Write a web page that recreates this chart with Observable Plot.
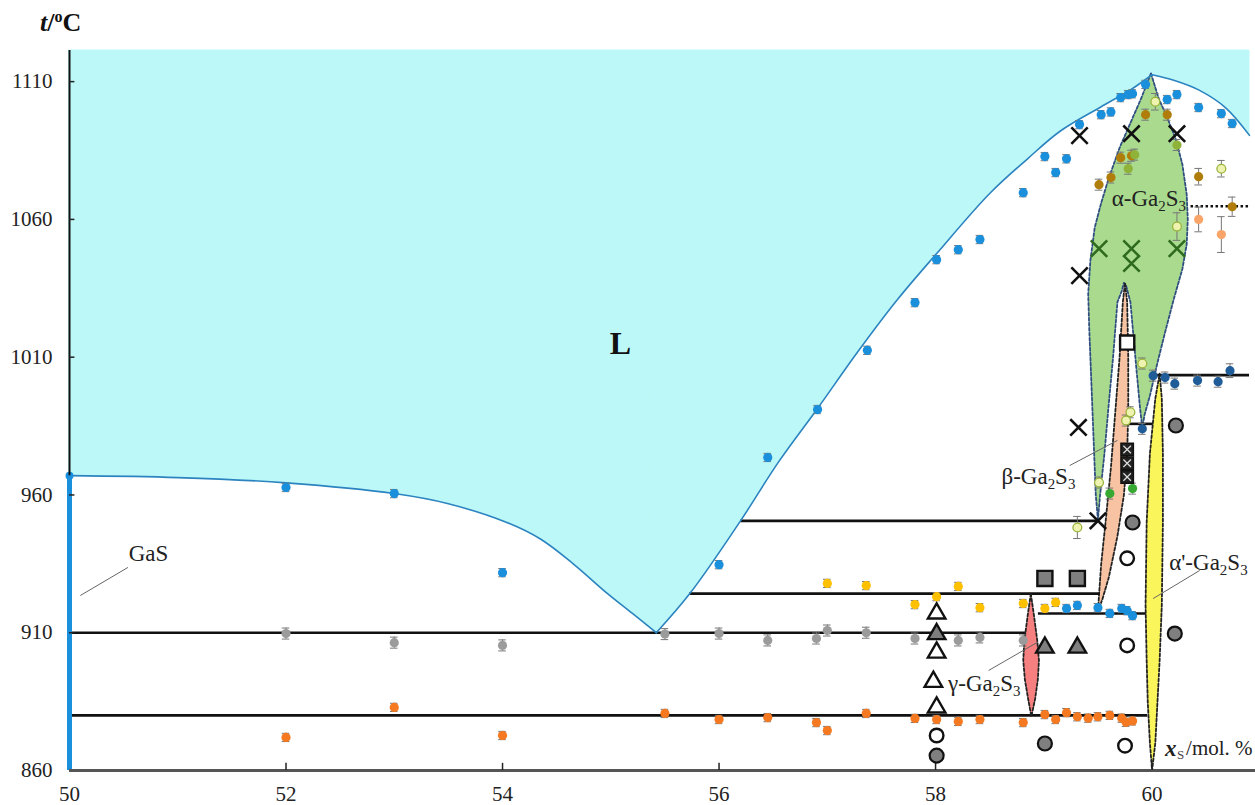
<!DOCTYPE html>
<html>
<head>
<meta charset="utf-8">
<script src="https://cdn.jsdelivr.net/npm/d3@7"></script>
<script src="https://cdn.jsdelivr.net/npm/@observablehq/plot@0.6"></script>
<style>
  body { margin: 0; background: #fff; }
  #wrap { position: relative; width: 1255px; height: 805px; }
  #ttl { position: absolute; left: 40px; top: 8px; font: bold 26px "Liberation Serif", "Times New Roman", serif; color: #111; }
  #ttl sup { font-size: 16px; vertical-align: 9px; }
</style>
</head>
<body>
<div id="wrap"><div id="ttl"><i>t</i>/<sup>o</sup>C</div></div>
<script>
// ---- axes ----
const xTicks = [50, 52, 54, 56, 58, 60];
const yTicks = [860, 910, 960, 1010, 1060, 1110];

// ---- liquidus (x, t), three branches ----
const liqLeft = [[50,967],[51,966.3],[52,964.4],[53,960.5],[53.5,956.8],[54.04,950],[54.35,944],[54.65,935.1],[54.97,924.2],[55.2,917],[55.42,910]];
const liqRise = [[55.42,910],[55.73,924.2],[56.2,950.7],[56.55,972],[56.91,991.4],[57.29,1012.4],[57.65,1031],[58.01,1047.6],[58.5,1069.4],[58.85,1082],[59.15,1092],[59.53,1100.9],[59.8,1107],[60.0,1112.5]];
const liqFall = [[60.0,1112.5],[60.2,1110.5],[60.43,1107],[60.68,1100.5],[60.9,1090.5]];
const gasMelt = 967;

// ---- phase regions (x, t) ----
const alphaRegion = [[59.99,1113],[60.06,1104],[60.14,1097],[60.22,1089],[60.28,1080],[60.32,1069],[60.33,1060],[60.32,1051],[60.28,1042],[60.2,1031],[60.12,1019],[60.05,1008],[59.98,996],[59.93,989],[59.91,984.5],[59.89,991],[59.85,1008],[59.8,1030],[59.76,1036],[59.74,1037],[59.72,1034],[59.68,1030],[59.64,1010],[59.6,993],[59.56,975],[59.52,960],[59.5,951],[59.48,960],[59.46,980],[59.44,1000],[59.42,1020],[59.41,1033],[59.43,1045],[59.47,1057],[59.53,1066],[59.6,1075],[59.7,1086],[59.8,1095],[59.9,1104]];
const betaRegion = [[59.5,918],[59.53,935],[59.57,950],[59.62,970],[59.66,990],[59.7,1010],[59.73,1030],[59.75,1037],[59.77,1030],[59.78,1010],[59.78,990],[59.77,975],[59.74,960],[59.68,945],[59.6,930],[59.54,922]];
const gammaRegion = [[58.88,924.2],[58.91,916],[58.94,907],[58.955,900],[58.945,893],[58.92,886],[58.885,879.6],[58.855,886],[58.825,893],[58.81,900],[58.82,907],[58.85,916]];
const alphaPrimeRegion = [[60.07,1004],[60.09,995],[60.1,975],[60.1,950],[60.09,920],[60.07,900],[60.05,885],[60.03,870],[60.0,860],[59.98,870],[59.96,885],[59.95,900],[59.94,920],[59.95,950],[59.98,975],[60.03,995]];

// ---- invariant lines [t, x1, x2] ----
const solidLines = [[910,50,58.85],[880,50,59.96],[924.2,55.73,59.52],[917,58.95,59.95],[950.6,56.2,59.5],[1003.5,59.99,60.9],[985.8,59.77,60.05]];
const dottedLines = [[1064.8,60.36,60.9]];

// ---- data points [x, t, err] ----
const blueData = [[52,962.7,1.5],[53,960.5,1.5],[54,931.8,1.5],[56.0,934.7,1.5],[56.45,973.6,1.5],[56.91,991,1.5],[57.37,1012.5,1.5],[57.81,1029.8,1.5],[58.01,1045.4,1.5],[58.21,1049,1.5],[58.41,1052.7,1.5],[58.81,1069.7,1.5],[59.01,1082.8,1.5],[59.11,1077,1.5],[59.21,1082,1.5],[59.33,1094.4,1.5],[59.53,1098,1.5],[59.62,1099,1.5],[59.71,1104.2,1.5],[59.78,1105.3,1.5],[59.82,1105.6,1.5],[59.94,1109,1.5],[60.14,1103.5,1.5],[60.23,1105.3,1.5],[60.43,1100.6,1.5],[60.64,1098.4,1.5],[60.74,1094.8,1.5],[59.21,918.8,1.5],[59.31,919.9,1.5],[59.5,919.1,1.5],[59.61,917,1.5],[59.72,918.8,1.5],[59.77,918,1.5],[59.82,916.2,1.5]];
const navyData = [[60.01,1003.3,2],[60.12,1002.6,2],[60.21,1000.4,2],[60.42,1001.5,2],[60.61,1001.1,2],[60.72,1005.1,2.5],[59.91,984,2]];
const grayData = [[52,909.7,2],[53,906.4,2],[54,905.4,2],[55.5,909.5,2],[56,909.7,2],[56.45,907.2,2],[56.9,907.9,2],[57,910.8,2],[57.36,910,2],[57.81,907.9,2],[58.21,907.2,2],[58.41,908.3,2],[58.81,907.2,2]];
const orangeData = [[52,872,1.5],[53,882.9,1.5],[54,872.7,1.5],[55.5,880.7,1.5],[56,878.5,1.5],[56.45,879.2,1.5],[56.9,877.4,1.5],[57,874.5,1.5],[57.36,880.7,1.5],[57.81,878.9,1.5],[58.01,878.5,1.5],[58.21,877.8,1.5],[58.41,878.5,1.5],[58.81,877.4,1.5],[59.01,880.3,1.5],[59.11,878.5,1.5],[59.21,881,1.5],[59.31,879.5,1.5],[59.41,879,1.5],[59.5,879.5,1.5],[59.61,880,1.5],[59.72,879,1.5],[59.76,877.5,1.5],[59.82,878,1.5]];
const goldData = [[57,927.9,1.5],[57.36,927.1,1.5],[57.81,920.2,1.5],[58.01,923.1,1.5],[58.21,926.8,1.5],[58.41,919.1,1.5],[58.81,920.6,1.5],[59.01,918.8,1.5],[59.11,921,1.5]];
const brownData = [[59.94,1098,2],[60.14,1098,2],[59.71,1082.4,2],[59.81,1083.1,2],[59.51,1072.6,2],[59.62,1075.2,2],[60.43,1075.5,3],[60.74,1064.6,3.5]];
const oliveData = [[59.84,1083.5,2],[59.78,1078.4,2],[60.23,1087,2]];
const paleData = [[60.03,1102.7,3],[60.64,1078.4,3],[60.23,1057.4,5],[59.91,1007.7,2],[59.8,990,2],[59.76,987,2],[59.51,964.5,2],[59.31,948.2,4]];
const salmonData = [[60.43,1060,4.5],[60.64,1054.5,6.5]];
const greenData = [[59.61,960.5,2],[59.82,962.3,2]];

// ---- symbol markers [x, t] ----
const blackCross = [[59.33,1090.4],[59.81,1091.1],[60.23,1091.1],[59.33,1039.6],[59.32,984.5],[59.5,950.6]];
const greenCross = [[59.51,1049.4],[59.81,1049.4],[59.81,1044],[60.23,1049.4]];
const openSquare = [[59.77,1015.3]];
const graySquare = [[59.01,929.7],[59.31,929.7]];
const blackSquare = [[59.77,976.5],[59.77,971.5],[59.77,966.5]];
const grayCircle = [[59.82,950],[60.22,985.2],[60.21,909.7],[58.01,865.4],[59.01,869.8]];
const openCircle = [[59.77,937],[58.01,872.7],[59.75,869],[59.77,905.4]];
const openTriangle = [[58.01,917],[58.01,902.8],[57.98,892.2],[58.01,882.9]];
const grayTriangle = [[58.01,909.5],[59.01,904.6],[59.31,904.6]];

// ---- annotations ----
const bigLabel = [{x:55.09, t:1015, text:"L"}];
const labels = [
  {x:50.73, t:938.7, text:"GaS"},
  {x:59.97, t:1067.5, text:"α-Ga₂S₃"},
  {x:58.95, t:966.5, text:"β-Ga₂S₃"},
  {x:60.52, t:935.5, text:"α'-Ga₂S₃"},
  {x:58.45, t:891.6, text:"γ-Ga₂S₃"}
];
const leaders = [[50.1,923.5,50.54,933.7],[59.24,970.7,59.68,979.8],[60.01,922.4,60.44,932.6],[58.49,896.3,58.94,906.5]];
const xTitlePos = [{x:60.12, t:868}];

const X = d => d[0], T = d => d[1];
const liqAll = [
  ...liqLeft.map(d => ({x: d[0], t: d[1], b: "left"})),
  ...liqRise.map(d => ({x: d[0], t: d[1], b: "rise"})),
  ...liqFall.map(d => ({x: d[0], t: d[1], b: "fall"}))
];
const pointSets = [
  [grayData, "#9b9b9b"], [orangeData, "#f47920"], [goldData, "#ffc000"], [blueData, "#1a90dc"],
  [navyData, "#1f5c98"], [brownData, "#b07d0b"], [oliveData, "#8fb339"], [salmonData, "#f9a468"], [greenData, "#37a832"]
];
const allErr = [...pointSets.flatMap(p => p[0]), ...paleData];

const serif = "'Liberation Serif', 'Times New Roman', serif";
const dashed = {curve: "linear-closed", strokeWidth: 1.8, strokeDasharray: "3,2"};
const cyan = "#bdf8f9";

const marks = [
  Plot.areaY(liqAll, {x: "x", y1: "t", y2: 1121.3, z: "b", curve: "catmull-rom", fill: cyan, stroke: cyan, strokeWidth: 1}),
  Plot.line(alphaRegion, {x: X, y: T, fill: "#a9da8e", stroke: "#2f4f80", ...dashed}),
  Plot.line(betaRegion, {x: X, y: T, fill: "#f7c3a2", stroke: "#222", ...dashed}),
  Plot.ruleY(solidLines, {y: d => d[0], x1: d => d[1], x2: d => d[2], stroke: "#111", strokeWidth: 2.6}),
  Plot.ruleY(dottedLines, {y: d => d[0], x1: d => d[1], x2: d => d[2], stroke: "#111", strokeWidth: 2.6, strokeDasharray: "2.5,2.5"}),
  Plot.line(gammaRegion, {x: X, y: T, fill: "#f5807f", stroke: "#222", ...dashed}),
  Plot.line(alphaPrimeRegion, {x: X, y: T, fill: "#fbf55c", stroke: "#222", ...dashed}),
  Plot.line(liqAll, {x: "x", y: "t", z: "b", curve: "catmull-rom", stroke: "#2b84bf", strokeWidth: 1.6}),
  Plot.ruleX([50], {y1: 860, y2: gasMelt, stroke: "#1a90dc", strokeWidth: 5}),
  Plot.dot([[50, gasMelt]], {x: X, y: T, r: 4, fill: "#1a90dc"}),
  Plot.ruleX([50], {y1: gasMelt, y2: 1121.3, stroke: "#111", strokeWidth: 2}),
  Plot.ruleY([860], {x1: 50, x2: 60.98, stroke: "#555", strokeWidth: 3}),
  Plot.ruleX(xTicks.slice(1), {y1: 860, y2: 862.6, stroke: "#222", strokeWidth: 1.5}),
  Plot.ruleY(yTicks.slice(1), {x1: 50, x2: 50.05, stroke: "#222", strokeWidth: 1.5}),
  Plot.link(leaders, {x1: d => d[0], y1: d => d[1], x2: d => d[2], y2: d => d[3], stroke: "#666", strokeWidth: 1}),
  Plot.ruleX(allErr, {x: X, y1: d => d[1] - d[2], y2: d => d[1] + d[2], stroke: "#777", strokeWidth: 1}),
  Plot.ruleY(allErr, {y: d => d[1] + d[2], x1: d => d[0] - 0.035, x2: d => d[0] + 0.035, stroke: "#777", strokeWidth: 1}),
  Plot.ruleY(allErr, {y: d => d[1] - d[2], x1: d => d[0] - 0.035, x2: d => d[0] + 0.035, stroke: "#777", strokeWidth: 1}),
  ...pointSets.map(([data, color]) => Plot.dot(data, {x: X, y: T, r: 4.6, fill: color})),
  Plot.dot(paleData, {x: X, y: T, r: 4.4, fill: "#eef4b0", stroke: "#9ab43c", strokeWidth: 1.3}),
  Plot.dot(blackCross, {x: X, y: T, symbol: "times", r: 7.5, stroke: "#111", strokeWidth: 2.6}),
  Plot.dot(greenCross, {x: X, y: T, symbol: "times", r: 7.5, stroke: "#2f6b1e", strokeWidth: 2.6}),
  Plot.dot(openSquare, {x: X, y: T, symbol: "square", r: 8, fill: "#fff", stroke: "#111", strokeWidth: 2.4}),
  Plot.dot(graySquare, {x: X, y: T, symbol: "square", r: 8.5, fill: "#7f7f7f", stroke: "#111", strokeWidth: 2.4}),
  Plot.dot(blackSquare, {x: X, y: T, symbol: "square", r: 7, fill: "#222", stroke: "#111", strokeWidth: 1.5}),
  Plot.dot(blackSquare, {x: X, y: T, symbol: "times", r: 3.5, stroke: "#ddd", strokeWidth: 1.2}),
  Plot.dot(grayCircle, {x: X, y: T, r: 7, fill: "#7f7f7f", stroke: "#111", strokeWidth: 2.2}),
  Plot.dot(openCircle, {x: X, y: T, r: 6.8, fill: "#fff", stroke: "#111", strokeWidth: 2.4}),
  Plot.dot(openTriangle, {x: X, y: T, symbol: "triangle", r: 6.5, fill: "#fff", stroke: "#111", strokeWidth: 2.4}),
  Plot.dot(grayTriangle, {x: X, y: T, symbol: "triangle", r: 6.5, fill: "#7f7f7f", stroke: "#111", strokeWidth: 2.4}),
  Plot.text(bigLabel, {x: "x", y: "t", text: "text", fontSize: 32, fontWeight: "bold", fill: "#111"}),
  Plot.text(labels, {x: "x", y: "t", text: "text", fontSize: 23, fill: "#222", className: "phase-label"}),
  Plot.text(xTitlePos, {x: "x", y: "t", text: () => "x", textAnchor: "start", fontSize: 23, fontWeight: "bold", fontStyle: "italic", fill: "#222"}),
  Plot.text(xTitlePos, {x: "x", y: "t", text: () => "S", textAnchor: "start", dx: 12, dy: 6, fontSize: 13, fill: "#444"}),
  Plot.text(xTitlePos, {x: "x", y: "t", text: () => "/mol. %", textAnchor: "start", dx: 21, fontSize: 21, fill: "#222"})
];

const chart = Plot.plot({
  width: 1255, height: 805,
  marginLeft: 69, marginRight: 6, marginTop: 50, marginBottom: 35,
  style: {fontFamily: serif, fontSize: "21px", color: "#222", background: "transparent"},
  x: {domain: [50, 60.9], ticks: xTicks, tickSize: 0, tickPadding: 16, label: null, tickFormat: d => String(d)},
  y: {domain: [860, 1121.3], ticks: yTicks, tickSize: 0, tickPadding: 17, label: null, tickFormat: d => String(d)},
  marks
});

// turn Unicode subscript digits into real subscript tspans
const subMap = {"₂": "2", "₃": "3"};
chart.querySelectorAll("text").forEach(el => {
  const s = el.textContent;
  if (!/[₂₃]/.test(s)) return;
  el.textContent = "";
  let sub = false;
  for (const ch of s) {
    const isSub = ch in subMap;
    const ts = document.createElementNS("http://www.w3.org/2000/svg", "tspan");
    ts.textContent = isSub ? subMap[ch] : ch;
    if (isSub) { ts.setAttribute("font-size", "0.65em"); ts.setAttribute("baseline-shift", "-30%"); }
    el.appendChild(ts);
  }
});
document.getElementById("wrap").prepend(chart);
</script>
</body>
</html>
